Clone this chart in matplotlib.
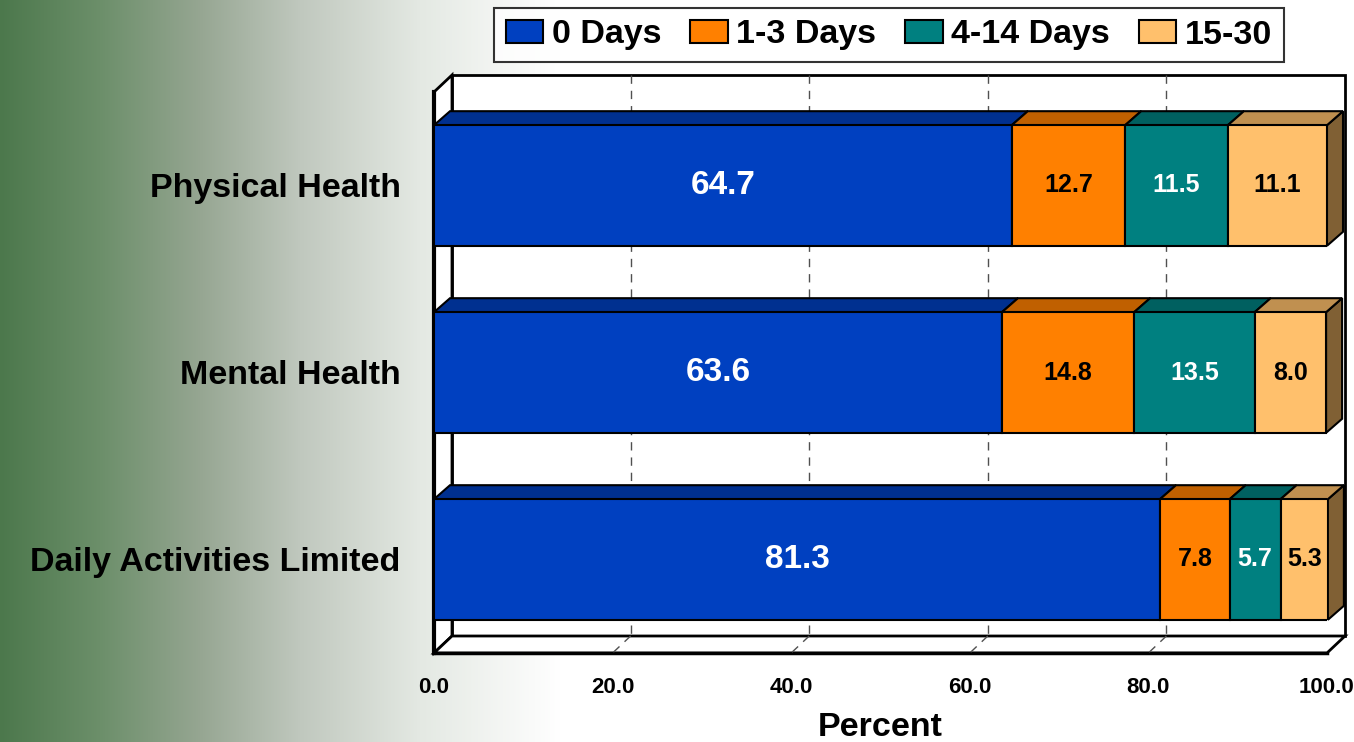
import numpy as np
import matplotlib
matplotlib.use("Agg")
import matplotlib.pyplot as plt
from matplotlib.patches import Polygon, Patch

plt.rcParams['font.family'] = ['Liberation Sans', 'DejaVu Sans']
plt.rcParams['font.weight'] = 'bold'

# data
categories = ["Physical Health", "Mental Health", "Daily Activities Limited"]
series = ["0 Days", "1-3 Days", "4-14 Days", "15-30"]
days_0 = [64.7, 63.6, 81.3]
days_1_3 = [12.7, 14.8, 7.8]
days_4_14 = [11.5, 13.5, 5.7]
days_15_30 = [11.1, 8.0, 5.3]
values = [days_0, days_1_3, days_4_14, days_15_30]
ticks = [0, 20, 40, 60, 80, 100]

front_c = ['#0040C0', '#FF8000', '#008080', '#FFC06C']
top_c = ['#003090', '#C06000', '#006060', '#C09050']
side_c = ['#002070', '#804000', '#004040', '#806034']
label_c = ['white', 'black', 'white', 'black']
label_fs = [24, 18, 18, 18]

W, H = 1354, 742
fig = plt.figure(figsize=(W / 100, H / 100), dpi=100)

# background: green to white gradient on the left
bg = fig.add_axes([0, 0, 1, 1], zorder=-10)
stops_x = [0, 100, 200, 300, 420, 560, W]
stops_c = np.array([(76, 120, 76), (108, 143, 106), (150, 166, 146),
                    (192, 200, 190), (228, 233, 227), (255, 255, 255),
                    (255, 255, 255)]) / 255
xs = np.arange(W)
grad = np.stack([np.interp(xs, stops_x, stops_c[:, k]) for k in range(3)], axis=-1)
bg.imshow(grad[None, :, :], aspect='auto', extent=[0, 1, 0, 1])
bg.axis('off')

ax = fig.add_axes([434 / W, 1 - 653 / H, 893 / W, 561 / H])
ax.set_xlim(0, 100)
ax.set_ylim(2.5, -0.5)
ax.patch.set_visible(False)
for s in ax.spines.values():
    s.set_visible(False)

px = 100 / 893
py = 3 / 561
wdx, wdy = 18 * px, 17 * py
bdx, bdy = 16 * px, 14 * py
y0, y1 = -0.5, 2.5

wall = dict(fc='white', ec='black', lw=2, clip_on=False, zorder=0)
ax.add_patch(Polygon([(wdx, y0 - wdy), (100 + wdx, y0 - wdy), (100 + wdx, y1 - wdy), (wdx, y1 - wdy)], **wall))
ax.add_patch(Polygon([(0, y0), (wdx, y0 - wdy), (wdx, y1 - wdy), (0, y1)], **wall))
ax.add_patch(Polygon([(0, y1), (wdx, y1 - wdy), (100 + wdx, y1 - wdy), (100, y1)], **wall))
ax.plot([0, 0], [y0, y1], color='black', lw=3, zorder=1, clip_on=False)
ax.plot([0, 100], [y1, y1], color='black', lw=2.5, zorder=1, clip_on=False)

for t in ticks[1:-1]:
    ax.plot([t + wdx, t + wdx], [y0 - wdy, y1 - wdy], color='#505050', lw=1,
            ls=(0, (6, 5)), zorder=1, clip_on=False)
    ax.plot([t + wdx, t], [y1 - wdy, y1], color='#505050', lw=1,
            ls=(0, (6, 5)), zorder=1, clip_on=False)

h = 0.645
for i in range(len(categories)):
    left = 0
    top = i - h / 2
    bot = i + h / 2
    for j, vals in enumerate(values):
        w = vals[i]
        r = left + w
        ax.add_patch(Polygon([(r, bot), (r, top), (r + bdx, top - bdy), (r + bdx, bot - bdy)],
                             fc=side_c[j], ec='black', lw=1.5, zorder=2, clip_on=False))
        ax.add_patch(Polygon([(left, top), (r, top), (r + bdx, top - bdy), (left + bdx, top - bdy)],
                             fc=top_c[j], ec='black', lw=1.5, zorder=2, clip_on=False))
        ax.barh(i, w, left=left, height=h, color=front_c[j], edgecolor='black',
                linewidth=1.5, zorder=3)
        ax.text(left + w / 2, i, f"{w:.1f}", ha='center', va='center',
                color=label_c[j], fontsize=label_fs[j], fontweight='bold', zorder=4)
        left = r

ax.set_xticks(ticks)
ax.set_xticklabels([f"{t:.1f}" for t in ticks], fontsize=16, fontweight='bold')
ax.tick_params(axis='x', length=0, pad=17)
ax.set_yticks(range(len(categories)))
ax.set_yticklabels(categories, fontsize=24.5, fontweight='bold')
ax.tick_params(axis='y', length=0, pad=24)
ax.set_xlabel("Percent", fontsize=24.5, fontweight='bold', labelpad=10)

handles = [Patch(fc=c, ec='black', lw=1.5) for c in front_c]
leg = fig.legend(handles, series, loc='center', bbox_to_anchor=(889 / W, 1 - 35 / H),
                 ncol=4, fontsize=24.5, frameon=True, fancybox=False, edgecolor='black',
                 handlelength=1.1, handleheight=0.65, handletextpad=0.25,
                 columnspacing=0.85, borderpad=0.35, borderaxespad=0)
leg.get_frame().set_linewidth(1.5)

fig.savefig('out.png', dpi=100)
